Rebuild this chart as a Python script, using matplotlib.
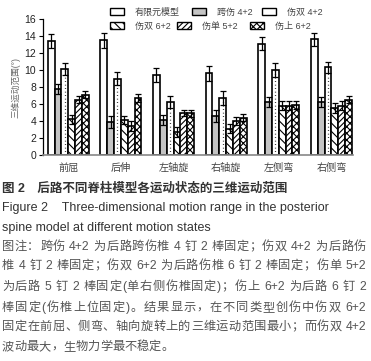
import re
import numpy as np
import matplotlib
matplotlib.use("Agg")
import matplotlib.pyplot as plt
from matplotlib.patches import Patch
from matplotlib.lines import Line2D

plt.rcParams['font.family'] = ['Liberation Sans', 'Noto Sans CJK SC', 'DejaVu Sans']
plt.rcParams['hatch.linewidth'] = 0.8

# 数据
categories = ['前屈', '后伸', '左轴旋', '右轴旋', '左侧弯', '右侧弯']
series = ['有限元模型', '跨伤 4+2', '伤双 4+2', '伤双 6+2', '伤单 5+2', '伤上 6+2']

fem_model = [13.4, 13.5, 9.4, 9.6, 13.1, 13.6]
kuashang_42 = [7.8, 3.9, 4.1, 4.6, 6.2, 6.2]
shuang_42 = [10.1, 9.0, 6.2, 6.7, 10.0, 10.3]
shuang_62 = [4.2, 4.1, 2.7, 3.1, 5.8, 5.5]
dan_52 = [6.5, 3.4, 4.9, 4.0, 5.8, 5.8]
shang_62 = [7.1, 6.7, 4.9, 4.4, 5.9, 6.5]

fem_err = [0.8, 0.9, 0.85, 0.85, 0.8, 0.8]
kuashang_err = [0.6, 0.7, 0.6, 0.7, 0.6, 0.6]
shuang42_err = [0.7, 0.8, 0.7, 0.85, 0.8, 0.7]
shuang62_err = [0.5, 0.5, 0.55, 0.55, 0.5, 0.6]
dan52_err = [0.4, 0.55, 0.35, 0.5, 0.5, 0.55]
shang62_err = [0.4, 0.45, 0.45, 0.45, 0.45, 0.4]

values = [fem_model, kuashang_42, shuang_42, shuang_62, dan_52, shang_62]
errors = [fem_err, kuashang_err, shuang42_err, shuang62_err, dan52_err, shang62_err]
fills = ['white', '#c4c4c4', 'white', 'white', 'white', 'white']
hatches = [None, None, None, '\\\\\\\\', '//////', 'xxxxx']

fig = plt.figure(figsize=(3.71, 3.61), dpi=100)
W, H = 371, 361
ax = fig.add_axes([43 / W, 1 - 155 / H, (353 - 43) / W, (155 - 19) / H])

x = np.arange(len(categories))
width = 0.13
handles = []
for i in range(len(series)):
    pos = x + (i - 2.5) * width
    ax.bar(pos, values[i], width, color=fills[i], edgecolor='black', linewidth=1.2,
           hatch=hatches[i], yerr=errors[i],
           error_kw=dict(ecolor='black', elinewidth=0.9, capsize=2, capthick=0.9))
    if i == 2:
        # 伤双 4+2: 柱中间的点线
        ax.vlines(pos, 0, values[i], colors='black', linestyles=(0, (0.6, 2.2)), linewidth=0.9)
    handles.append(Patch(facecolor=fills[i], edgecolor='black', linewidth=1.0, hatch=hatches[i]))

ax.set_xlim(-0.48, 5.41)
ax.set_ylim(0, 16)
ax.set_yticks(np.arange(0, 17, 2))
ax.set_xticks(x)
ax.set_xticklabels(categories, fontsize=7.3, color='#444444')
ax.tick_params(axis='x', length=0, pad=6)
ax.tick_params(axis='y', length=3, width=0.8, labelsize=7.5, labelcolor='#222222', pad=2)
for s in ['top', 'right']:
    ax.spines[s].set_visible(False)
ax.spines['left'].set_linewidth(0.9)
ax.spines['bottom'].set_color('#888888')
ax.spines['bottom'].set_linewidth(1.2)
ax.set_ylabel('三维运动范围(°)', fontsize=6.2, color='#666666', labelpad=3)

# 图例: 每项单独放置 (两行, 列不对齐)
renderer = fig.canvas.get_renderer()
legend_pos = [(110, 12), (192, 12), (262, 12), (110, 26), (177, 26), (250, 26)]
for i, (lx, ly) in enumerate(legend_pos):
    leg = fig.legend([handles[i]], [series[i]], frameon=False, fontsize=6.5,
                     loc='center left', bbox_to_anchor=(lx / W, 1 - ly / H),
                     handlelength=1.55, handleheight=0.8, handletextpad=1.2,
                     borderpad=0, borderaxespad=0)
    leg.get_texts()[0].set_color('#444444')
    if i == 2:
        fig.canvas.draw()
        bb = leg.get_patches()[0].get_window_extent(renderer)
        cx = (bb.x0 + bb.x1) / 2
        fig.add_artist(Line2D([cx / W, cx / W], [bb.y0 / H, bb.y1 / H], transform=fig.transFigure,
                              color='black', linestyle=(0, (0.6, 2.2)), linewidth=0.9))

# 图题和图注
fig.text(2 / W, 1 - 189 / H, '图 2\u3000后路不同脊柱模型各运动状态的三维运动范围',
         fontsize=9, color='#333333', va='center', fontweight='bold')
fig.text(2 / W, 1 - 208 / H, 'Figure 2    Three-dimensional motion range in the posterior',
         fontsize=9, color='#333333', va='center')
fig.text(2 / W, 1 - 228 / H, 'spine model at different motion states',
         fontsize=9, color='#333333', va='center')

notes = [
    '图注：跨伤 4+2 为后路跨伤椎 4 钉 2 棒固定；伤双 4+2 为后路伤',
    '椎 4 钉 2 棒固定；伤双 6+2 为后路伤椎 6 钉 2 棒固定；伤单 5+2',
    '为后路 5 钉 2 棒固定(单右侧伤椎固定)；伤上 6+2 为后路 6 钉 2',
    '棒固定(伤椎上位固定)。结果显示，在不同类型创伤中伤双 6+2',
    '固定在前屈、侧弯、轴向旋转上的三维运动范围最小；而伤双 4+2',
    '波动最大，生物力学最不稳定。',
]
note_y = [247, 266, 287, 308, 327, 347]

# 两端对齐: 逐个字符/数字放置
x0, x1 = 2, 366
for k, (line, yy) in enumerate(zip(notes, note_y)):
    tokens = re.findall(r'[0-9+]+| |.', line)
    texts = []
    widths = []
    for tok in tokens:
        if tok == ' ':
            texts.append(None)
            widths.append(3.2)
            continue
        t = fig.text(0, 1 - yy / H, tok, fontsize=8.8, color='#555555', va='center')
        texts.append(t)
        widths.append(t.get_window_extent(renderer).width)
    natural = sum(widths)
    gap = 0 if k == len(notes) - 1 else (x1 - x0 - natural) / (len(tokens) - 1)
    cur = x0
    for t, w in zip(texts, widths):
        if t is not None:
            t.set_x(cur / W)
        cur += w + gap

fig.savefig('out.png', dpi=100)
